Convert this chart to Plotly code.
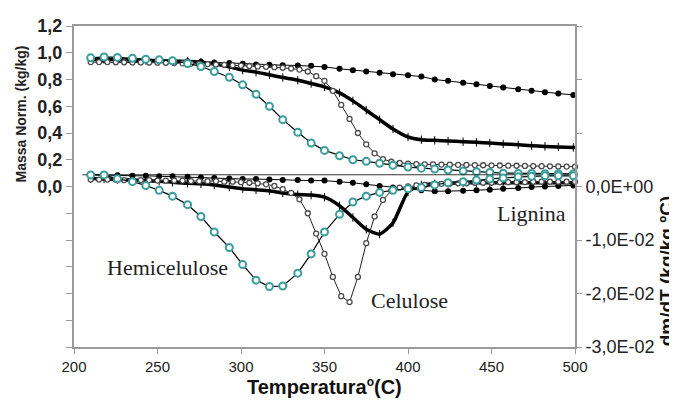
import plotly.graph_objects as go

# ---------------- data ----------------
# temperature grid (°C) for Hemicelulose / Lignina / thick curve
T_hemi = [210, 218, 226, 235, 243, 251, 259, 268, 276, 284, 293, 301, 309, 317, 325, 334, 342, 350,
          359, 367, 375, 383, 391, 400, 408, 416, 424, 433, 441, 449, 457, 466, 474, 482, 490, 499]
T_lig = [210, 218, 226, 235, 243, 251, 259, 268, 276, 284, 293, 301, 309, 317, 325, 334, 342, 350,
         359, 367, 375, 383, 391, 400, 408, 416, 424, 433, 441, 449, 457, 466, 474, 482, 490, 499, 507]
T_cel = [210, 215, 220, 225, 230, 235, 240, 245, 250, 255, 260, 265, 270, 275, 280, 285, 290, 295,
         300, 305, 310, 315, 320, 325, 330, 335, 340, 345, 350, 355, 360, 365, 370, 375, 380, 385,
         390, 395, 400, 405, 410, 415, 420, 425, 430, 435, 440, 445, 450, 455, 460, 465, 470, 475,
         480, 485, 490, 495, 500, 505]

# normalised mass (kg/kg) - left axis
tg_hemi = [0.962, 0.969, 0.965, 0.958, 0.952, 0.947, 0.940, 0.920, 0.897, 0.860, 0.817, 0.760,
           0.690, 0.600, 0.500, 0.405, 0.325, 0.270, 0.230, 0.200, 0.188, 0.174, 0.159, 0.145,
           0.137, 0.130, 0.123, 0.116, 0.110, 0.105, 0.100, 0.098, 0.097, 0.096, 0.095, 0.095]
tg_cel = [0.930, 0.930, 0.930, 0.929, 0.929, 0.928, 0.928, 0.927, 0.926, 0.925, 0.923, 0.921,
          0.919, 0.917, 0.915, 0.912, 0.910, 0.907, 0.904, 0.901, 0.898, 0.895, 0.892, 0.888,
          0.882, 0.874, 0.860, 0.825, 0.790, 0.715, 0.610, 0.505, 0.400, 0.315, 0.248, 0.205,
          0.185, 0.176, 0.171, 0.168, 0.166, 0.165, 0.164, 0.163, 0.162, 0.161, 0.160, 0.159,
          0.158, 0.157, 0.156, 0.155, 0.154, 0.153, 0.152, 0.151, 0.150, 0.149, 0.148, 0.147]
tg_lig = [0.950, 0.950, 0.948, 0.946, 0.944, 0.942, 0.940, 0.937, 0.933, 0.928, 0.923, 0.918,
          0.913, 0.910, 0.907, 0.905, 0.902, 0.894, 0.880, 0.870, 0.860, 0.851, 0.840, 0.832,
          0.822, 0.800, 0.790, 0.775, 0.765, 0.752, 0.740, 0.728, 0.716, 0.705, 0.695, 0.685, 0.678]
tg_bio = [0.950, 0.950, 0.948, 0.945, 0.943, 0.940, 0.938, 0.935, 0.930, 0.915, 0.895, 0.870,
          0.855, 0.835, 0.815, 0.795, 0.770, 0.745, 0.700, 0.640, 0.570, 0.500, 0.430, 0.370,
          0.350, 0.345, 0.340, 0.335, 0.330, 0.325, 0.318, 0.312, 0.305, 0.300, 0.296, 0.292, 0.290]

# dm/dT in units of 1E-02 kg/kg.°C - right axis
dtg_hemi = [0.216, 0.216, 0.144, 0.090, 0.018, -0.072, -0.180, -0.340, -0.560, -0.850, -1.140,
            -1.460, -1.750, -1.870, -1.860, -1.620, -1.260, -0.850, -0.520, -0.290, -0.180, -0.110,
            -0.070, -0.040, -0.020, 0.030, 0.070, 0.090, 0.120, 0.140, 0.160, 0.180, 0.190, 0.200,
            0.200, 0.200]
dtg_cel = [0.13, 0.13, 0.13, 0.13, 0.12, 0.12, 0.12, 0.12, 0.11, 0.11, 0.11, 0.11, 0.10, 0.10,
           0.10, 0.10, 0.09, 0.09, 0.08, 0.07, 0.06, 0.04, 0.01, -0.05, -0.12, -0.24, -0.50, -0.88,
           -1.26, -1.69, -2.05, -2.16, -1.69, -1.06, -0.56, -0.25, -0.08, -0.02, 0.00, 0.02, 0.03,
           0.04, 0.05, 0.05, 0.06, 0.06, 0.07, 0.07, 0.07, 0.08, 0.08, 0.08, 0.08, 0.09, 0.09, 0.09,
           0.09, 0.09, 0.09, 0.09]
dtg_lig = [0.22, 0.21, 0.21, 0.20, 0.20, 0.19, 0.19, 0.18, 0.17, 0.16, 0.15, 0.14, 0.14, 0.13,
           0.12, 0.12, 0.11, 0.11, 0.09, 0.07, 0.04, 0.01, -0.02, -0.05, -0.07, -0.09, -0.09, -0.08,
           -0.07, -0.06, -0.04, -0.03, -0.01, 0.00, 0.01, 0.02, 0.03]
dtg_bio = [0.15, 0.14, 0.13, 0.12, 0.11, 0.10, 0.08, 0.06, 0.05, 0.03, -0.01, -0.04, -0.06, -0.08,
           -0.12, -0.15, -0.16, -0.20, -0.36, -0.58, -0.80, -0.89, -0.68, -0.10, 0.03, 0.05, 0.06,
           0.07, 0.07, 0.07, 0.07, 0.07, 0.07, 0.07, 0.07, 0.07, 0.07]
ref_T = [205, 507]
ref_dtg = [0.22, 0.22]

left_ticks = [-1.2, -1.0, -0.8, -0.6, -0.4, -0.2, 0.0, 0.2, 0.4, 0.6, 0.8, 1.0, 1.2]
left_labels = ["", "", "", "", "", "", "0,0", "0,2", "0,4", "0,6", "0,8", "1,0", "1,2"]
right_ticks = [-3, -2, -1, 0, 1, 2, 3]
right_labels = ["-3,0E-02", "-2,0E-02", "-1,0E-02", "0,0E+00", "", "", ""]
x_ticks = [200, 250, 300, 350, 400, 450, 500]

TEAL = "#3a9c9c"
GRAY = "#4a4a4a"

fig = go.Figure()

# reference horizontal line
fig.add_trace(go.Scatter(x=ref_T, y=ref_dtg, yaxis="y2", mode="lines",
                         line=dict(color="#333", width=1.2), showlegend=False))

# Lignina (filled black circles)
for yv, ax in ((tg_lig, "y"), (dtg_lig, "y2")):
    fig.add_trace(go.Scatter(x=T_lig, y=yv, yaxis=ax, mode="lines+markers", cliponaxis=False,
                             line=dict(color="black", width=1),
                             marker=dict(symbol="circle", size=6, color="black"),
                             showlegend=False))

# thick curve (biomass)
for yv, ax in ((tg_bio, "y"), (dtg_bio, "y2")):
    fig.add_trace(go.Scatter(x=T_lig, y=yv, yaxis=ax, mode="lines+markers", cliponaxis=False,
                             line=dict(color="black", width=3.5, shape="spline", smoothing=0.6),
                             marker=dict(symbol="line-ns-open", size=6,
                                         line=dict(color="black", width=1)),
                             showlegend=False))

# Celulose (small gray open circles)
for yv, ax in ((tg_cel, "y"), (dtg_cel, "y2")):
    fig.add_trace(go.Scatter(x=T_cel, y=yv, yaxis=ax, mode="lines+markers", cliponaxis=False,
                             line=dict(color="#222", width=1),
                             marker=dict(symbol="circle", size=5, color="white",
                                         line=dict(color=GRAY, width=1.3)),
                             showlegend=False))

# Hemicelulose (teal open circles)
for yv, ax in ((tg_hemi, "y"), (dtg_hemi, "y2")):
    fig.add_trace(go.Scatter(x=T_hemi, y=yv, yaxis=ax, mode="lines+markers", cliponaxis=False,
                             line=dict(color="black", width=1.2),
                             marker=dict(symbol="circle", size=7, color="white",
                                         line=dict(color=TEAL, width=2)),
                             showlegend=False))

AX = "#9a9a9a"
fig.update_layout(
    width=669, height=408,
    margin=dict(l=66, r=102, t=8, b=69),
    paper_bgcolor="white", plot_bgcolor="white",
    font=dict(family="Liberation Sans, Arial, sans-serif", color="#222"),
    xaxis=dict(range=[200, 500], tickvals=x_ticks, ticks="outside", ticklen=5,
               tickcolor=AX, showline=True, linecolor=AX, linewidth=2, mirror=True,
               showgrid=False, zeroline=False, tickfont=dict(size=15, color="#222")),
    yaxis=dict(range=[-1.2, 1.2], tickvals=left_ticks,
               ticktext=["<b>%s</b>" % t if t else "" for t in left_labels],
               ticks="outside", ticklen=6, tickcolor=AX, showline=True, linecolor=AX,
               linewidth=2, showgrid=False, zeroline=False,
               tickfont=dict(size=18, color="#222")),
    yaxis2=dict(range=[-3, 3], overlaying="y", side="right", tickvals=right_ticks,
                ticktext=right_labels, ticks="outside", ticklen=5, tickcolor=AX,
                showline=True, linecolor=AX, linewidth=2, showgrid=False, zeroline=False,
                tickfont=dict(size=18, color="#222")),
    annotations=[
        dict(text="<b>Temperatura<sup><span style='font-size:12px'>o</span></sup>(C)</b>",
             xref="paper", yref="paper",
             x=0.5, y=-0.124, xanchor="center", yanchor="middle", showarrow=False,
             font=dict(size=20, color="#111")),
        dict(text="<b>Massa Norm. (kg/kg)</b>", xref="paper", yref="paper",
             x=-0.106, y=0.727, xanchor="center", yanchor="middle", textangle=-90,
             showarrow=False, font=dict(size=14, color="#222")),
        dict(text="<b>dm/dT (kg/kg.ºC)</b>", xref="paper", yref="paper",
             x=1.1816, y=0.239, xanchor="center", yanchor="middle", textangle=-90,
             showarrow=False, font=dict(size=19, color="#111")),
        dict(text="Hemicelulose", x=255.7, y=-0.607, xref="x", yref="y", showarrow=False,
             font=dict(family="Liberation Serif, Times New Roman, serif", size=22, color="#222")),
        dict(text="Celulose", x=400.6, y=-0.853, xref="x", yref="y", showarrow=False,
             font=dict(family="Liberation Serif, Times New Roman, serif", size=22, color="#222")),
        dict(text="Lignina", x=473.7, y=-0.20, xref="x", yref="y", showarrow=False,
             font=dict(family="Liberation Serif, Times New Roman, serif", size=22, color="#222")),
    ],
)

fig.write_html("out.html")
